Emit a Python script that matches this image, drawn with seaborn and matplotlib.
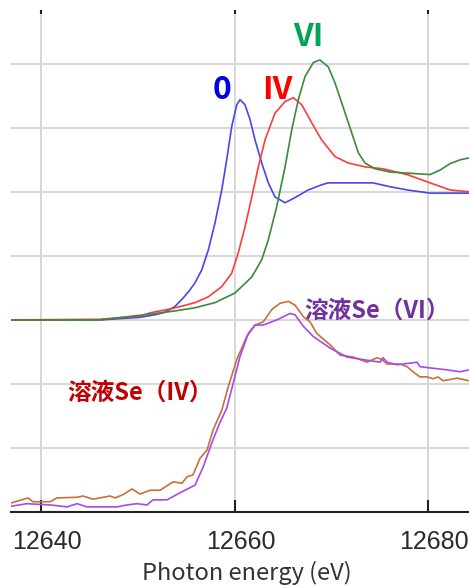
import numpy as np
import pandas as pd
import matplotlib
matplotlib.use("Agg")
import matplotlib.pyplot as plt
import matplotlib.transforms as mtransforms
import seaborn as sns

# ---- data ----
e_se0 = [12636.9, 12646.1, 12650.23, 12651.78, 12652.81, 12653.84, 12654.67, 12655.29, 12655.91, 12656.60,
         12657.28, 12657.98, 12658.67, 12659.18, 12659.70, 12660.22, 12660.56, 12661.07, 12661.59, 12662.11,
         12662.80, 12663.48, 12664.17, 12665.21, 12666.24, 12667.61, 12668.99, 12669.65, 12673.47, 12674.30,
         12676.05, 12677.81, 12680.19, 12684.21]
i_se0 = [3.00, 3.00, 3.04, 3.08, 3.12, 3.21, 3.34, 3.45, 3.58, 3.78,
         4.09, 4.52, 5.03, 5.50, 6.02, 6.36, 6.44, 6.36, 6.13, 5.81,
         5.45, 5.14, 4.92, 4.83, 4.91, 5.03, 5.11, 5.14, 5.14, 5.14,
         5.08, 5.03, 4.98, 4.98]

e_se4 = [12636.9, 12646.1, 12650.23, 12651.26, 12653.33, 12654.67, 12655.91, 12657.28, 12658.67, 12659.70,
         12660.38, 12661.07, 12661.77, 12662.45, 12663.14, 12664.17, 12665.21, 12666.06, 12666.93, 12667.96,
         12668.99, 12670.37, 12671.75, 12673.47, 12675.33, 12677.81, 12680.19, 12682.25, 12684.21]
i_se4 = [3.00, 3.01, 3.06, 3.11, 3.17, 3.22, 3.27, 3.36, 3.52, 3.73,
         4.05, 4.45, 4.92, 5.39, 5.81, 6.23, 6.41, 6.47, 6.36, 6.08,
         5.81, 5.55, 5.45, 5.39, 5.36, 5.27, 5.14, 5.03, 5.00]

e_se6 = [12636.9, 12646.1, 12651.26, 12653.84, 12655.91, 12657.98, 12660.04, 12661.77, 12662.80, 12663.48,
         12664.35, 12665.21, 12665.90, 12666.58, 12667.27, 12668.13, 12668.82, 12669.68, 12670.37, 12671.06,
         12672.10, 12672.78, 12673.47, 12674.50, 12676.05, 12680.19, 12681.22, 12682.25, 12683.29, 12684.21]
i_se6 = [3.00, 3.00, 3.09, 3.14, 3.19, 3.27, 3.42, 3.67, 3.94, 4.25,
         4.77, 5.39, 5.97, 6.44, 6.80, 7.02, 7.06, 6.95, 6.70, 6.39,
         5.92, 5.61, 5.45, 5.36, 5.31, 5.27, 5.34, 5.44, 5.50, 5.53]

e_sol4 = [12636.9, 12638.66, 12639.17, 12640.93, 12641.65, 12643.72, 12644.34, 12645.37, 12647.13, 12647.64,
          12648.47, 12649.40, 12650.23, 12651.26, 12652.29, 12653.64, 12654.57, 12655.08, 12655.70, 12656.43,
          12657.15, 12657.77, 12658.67, 12659.35, 12660.22, 12661.25, 12662.11, 12662.96, 12663.83, 12664.69,
          12665.55, 12666.24, 12667.10, 12667.79, 12668.48, 12669.86, 12670.89, 12672.23, 12673.68, 12674.71,
          12675.23, 12675.74, 12677.09, 12677.81, 12678.43, 12679.15, 12679.88, 12680.50, 12681.01, 12681.53,
          12682.98, 12684.21]
i_sol4 = [0.14, 0.22, 0.16, 0.16, 0.22, 0.23, 0.25, 0.20, 0.25, 0.22,
          0.27, 0.36, 0.28, 0.34, 0.34, 0.47, 0.45, 0.55, 0.58, 0.84,
          0.97, 1.28, 1.59, 1.96, 2.38, 2.74, 2.92, 2.97, 3.16, 3.26,
          3.29, 3.23, 3.05, 2.97, 2.79, 2.61, 2.45, 2.42, 2.34, 2.41,
          2.38, 2.31, 2.31, 2.27, 2.19, 2.11, 2.11, 2.08, 2.11, 2.05,
          2.09, 2.05]

e_sol6 = [12636.9, 12638.55, 12640.93, 12642.69, 12643.72, 12644.75, 12647.85, 12648.88, 12649.92, 12650.95,
          12651.57, 12653.02, 12654.36, 12655.91, 12656.74, 12657.77, 12658.49, 12659.18, 12659.87, 12660.56,
          12661.42, 12662.11, 12662.96, 12664.35, 12665.72, 12666.24, 12667.10, 12668.13, 12669.86, 12671.61,
          12673.26, 12675.02, 12675.33, 12675.74, 12676.78, 12678.43, 12678.84, 12679.15, 12680.19, 12681.94,
          12683.29, 12684.21]
i_sol6 = [0.09, 0.13, 0.11, 0.08, 0.13, 0.08, 0.08, 0.11, 0.13, 0.11,
          0.19, 0.19, 0.30, 0.42, 0.70, 1.13, 1.40, 1.62, 2.02, 2.43,
          2.79, 2.92, 2.92, 3.00, 3.10, 3.08, 2.90, 2.74, 2.56, 2.42,
          2.38, 2.34, 2.41, 2.34, 2.30, 2.33, 2.34, 2.27, 2.25, 2.22,
          2.19, 2.22]

x_ticks = [12640, 12660, 12680]
x_label = "Photon energy (eV)"

series = [
    ("0", e_se0, i_se0, "#4646f0"),
    ("IV", e_se4, i_se4, "#ff3b3b"),
    ("VI", e_se6, i_se6, "#3a8a3a"),
    ("sol4", e_sol4, i_sol4, "#c8703a"),
    ("sol6", e_sol6, i_sol6, "#a848f0"),
]

sns.set_style("white")
plt.rcParams["font.family"] = ["Liberation Sans", "DejaVu Sans"]

fig = plt.figure(figsize=(4.69, 5.87), dpi=100)
ax = fig.add_axes([11 / 469, 1 - 512 / 587, 1 - 11 / 469, (512 - 10) / 587])

for name, e, v, c in series:
    df = pd.DataFrame({"E": e, "I": v})
    sns.lineplot(data=df, x="E", y="I", ax=ax, color=c, linewidth=1.2, estimator=None, sort=False)

ax.set_xlim(12636.9, 12684.21)
ax.set_ylim(0, 7.84)
ax.set_xticks(x_ticks)
ax.set_yticks([1, 2, 3, 4, 5, 6, 7])
ax.grid(True, color="#d4d4d4", linewidth=1.3)
ax.set_axisbelow(True)
for s in ["left", "right", "top"]:
    ax.spines[s].set_visible(False)
ax.spines["bottom"].set_color("#222222")
ax.spines["bottom"].set_linewidth(1.5)
ax.tick_params(axis="y", left=False, labelleft=False)
ax.tick_params(axis="x", bottom=True, top=True, direction="in", length=9, width=1.5,
               color="#222222", labelsize=18, labelcolor="#2a2a2a", pad=13)
ax.set_xticklabels([str(t) for t in x_ticks])
shift = mtransforms.ScaledTranslation(6 / 100, 0, fig.dpi_scale_trans)
for lab in ax.get_xticklabels():
    lab.set_transform(lab.get_transform() + shift)
ax.set_xlabel(x_label, fontsize=17, color="#333333", family=["Noto Sans CJK JP", "DejaVu Sans"])
ax.xaxis.set_label_coords((246.5 - 11) / 458, -(585 - 512) / 502, transform=ax.transAxes)
ax.xaxis.label.set_va("bottom")
ax.set_ylabel("")

for t in ax.xaxis.get_major_ticks():
    t.tick2line.set_markersize(3)

bold = dict(family=["Noto Sans CJK JP", "DejaVu Sans"], fontweight="bold")
ax.text(12658.65, 6.45, "0", color="#0000e0", fontsize=23, ha="center", va="baseline", **bold)
ax.text(12664.38, 6.45, "IV", color="#ff0000", fontsize=23, ha="center", va="baseline", **bold)
ax.text(12667.58, 7.27, "VI", color="#00a651", fontsize=23, ha="center", va="baseline", **bold)
ax.text(12667.15, 3.04, "溶液Se（VI）", color="#7030a0", fontsize=17, ha="left", va="baseline", **bold)
ax.text(12642.7, 1.76, "溶液Se（IV）", color="#c00000", fontsize=17, ha="left", va="baseline", **bold)

fig.savefig("out.png", dpi=100)
